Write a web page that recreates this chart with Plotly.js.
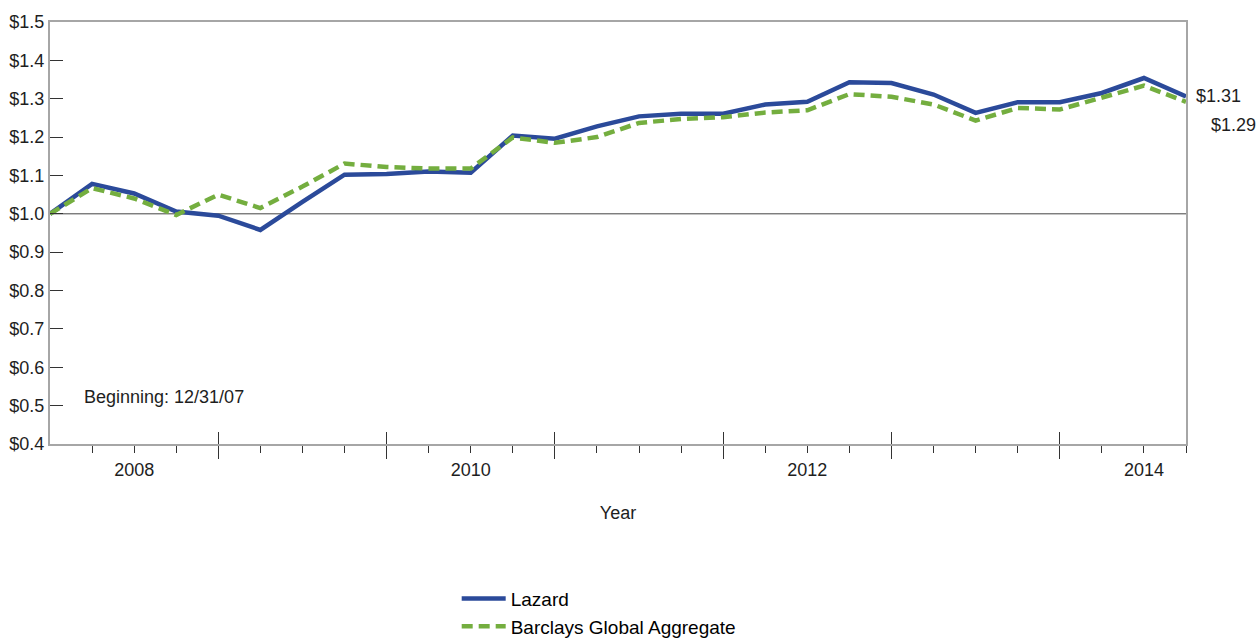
<!DOCTYPE html>
<html>
<head>
<meta charset="utf-8">
<script src="https://cdn.plot.ly/plotly-3.0.1.min.js"></script>
<style>html,body{margin:0;padding:0;background:#fff;}#chart{width:1258px;height:642px;}</style>
</head>
<body>
<div id="chart"></div>
<script>
// Quarter index 0 = 12/31/07, one step per quarter, last = 9/30/14
const quarters = [0,1,2,3,4,5,6,7,8,9,10,11,12,13,14,15,16,17,18,19,20,21,22,23,24,25,26,27];
const lazard = [1.000,1.078,1.053,1.006,0.995,0.958,1.031,1.102,1.104,1.110,1.107,1.204,1.196,1.228,1.254,1.261,1.261,1.285,1.292,1.343,1.341,1.311,1.263,1.291,1.291,1.315,1.354,1.306];
const barclays = [1.000,1.067,1.040,0.997,1.050,1.015,1.071,1.131,1.122,1.118,1.118,1.199,1.185,1.200,1.237,1.247,1.252,1.264,1.270,1.312,1.305,1.285,1.243,1.276,1.272,1.302,1.334,1.292];
const seriesNames = ["Lazard", "Barclays Global Aggregate"];
const yearBoundaries = [4, 8, 12, 16, 20, 24];
const yearLabelPos = [2, 10, 18, 26];
const yearLabels = ["2008", "2010", "2012", "2014"];
const beginningNote = "Beginning: 12/31/07";

const narrow = "Liberation Sans Narrow, Arial Narrow, Liberation Sans, Arial, sans-serif";
const regular = "Liberation Sans, Arial, sans-serif";
const textColor = "#1e1e1e";
const blue = "#2b4a9a";
const green = "#74ae3f";
const fs = 18;

const minorVals = quarters.filter(q => q > 0 && yearBoundaries.indexOf(q) < 0);
const xRange = [quarters[0], quarters[quarters.length - 1]];

const traces = [
  {x: quarters, y: lazard, name: seriesNames[0], type: "scatter", mode: "lines",
   line: {color: blue, width: 4.5}, xaxis: "x", yaxis: "y"},
  {x: quarters, y: barclays, name: seriesNames[1], type: "scatter", mode: "lines",
   line: {color: green, width: 4.5, dash: "11px,6px"}, xaxis: "x", yaxis: "y"},
  {x: [], y: [], xaxis: "x2", yaxis: "y", showlegend: false, hoverinfo: "skip"},
  {x: [], y: [], xaxis: "x3", yaxis: "y", showlegend: false, hoverinfo: "skip"}
];

const last = quarters.length - 1;
const layout = {
  width: 1258, height: 642,
  margin: {l: 50, r: 72, t: 22, b: 198},
  paper_bgcolor: "#fff", plot_bgcolor: "#fff",
  font: {family: narrow, size: fs, color: textColor},
  showlegend: true,
  xaxis: {
    range: xRange, showgrid: false, zeroline: false,
    showline: true, linecolor: "#a6a6a6", linewidth: 2, mirror: true,
    tickmode: "array", tickvals: yearBoundaries, ticktext: yearBoundaries.map(() => ""),
    ticks: "outside", ticklen: 13, tickwidth: 1, tickcolor: "#333",
    minor: {tickmode: "array", tickvals: minorVals, ticks: "outside", ticklen: 7, tickwidth: 1, tickcolor: "#333", showgrid: false},
    showticklabels: false
  },
  xaxis2: {
    overlaying: "x", matches: "x", range: xRange, side: "bottom",
    showgrid: false, zeroline: false, showline: false,
    tickmode: "array", tickvals: yearBoundaries, ticks: "inside", ticklen: 12, tickwidth: 1, tickcolor: "#333",
    showticklabels: false
  },
  xaxis3: {
    overlaying: "x", matches: "x", range: xRange, side: "bottom",
    showgrid: false, zeroline: false, showline: false,
    tickmode: "array", tickvals: yearLabelPos, ticktext: yearLabels, ticks: "",
    ticklabelstandoff: 13,
    tickfont: {family: narrow, size: fs, color: textColor},
    title: {text: "Year", font: {family: narrow, size: fs, color: textColor}, standoff: 27}
  },
  yaxis: {
    range: [0.4, 1.5], dtick: 0.1, tick0: 0.4, tickformat: ".1f", tickprefix: "$",
    showgrid: false, zeroline: false,
    showline: true, linecolor: "#a6a6a6", linewidth: 2, mirror: true,
    ticks: "inside", ticklen: 13, tickwidth: 1, tickcolor: "#333",
    tickfont: {family: narrow, size: fs, color: textColor}
  },
  shapes: [
    {type: "line", xref: "paper", x0: 0, x1: 1, yref: "y", y0: 1, y1: 1, line: {color: "#444", width: 1}, layer: "below"}
  ],
  legend: {
    orientation: "v", x: 0.358, xanchor: "left", xref: "paper",
    y: 0.097, yanchor: "top", yref: "container",
    font: {family: regular, size: 19, color: "#000"}, itemwidth: 44,
    bgcolor: "rgba(0,0,0,0)", tracegroupgap: 0
  },
  annotations: [
    {text: beginningNote, xref: "paper", yref: "paper", x: 0.028, y: 0.111, xanchor: "left", yanchor: "middle",
     showarrow: false, font: {family: narrow, size: fs, color: textColor}},
    {text: "$" + lazard[last].toFixed(2), xref: "x", yref: "y", x: quarters[last], y: lazard[last],
     xanchor: "left", yanchor: "middle", xshift: 8, showarrow: false, font: {family: narrow, size: fs, color: textColor}},
    {text: "$" + barclays[last].toFixed(2), xref: "x", yref: "y", x: quarters[last], y: barclays[last],
     xanchor: "left", yanchor: "middle", xshift: 23, yshift: -23, showarrow: false, font: {family: narrow, size: fs, color: textColor}}
  ]
};

Plotly.newPlot("chart", traces, layout, {displayModeBar: false, staticPlot: true});
</script>
</body>
</html>
